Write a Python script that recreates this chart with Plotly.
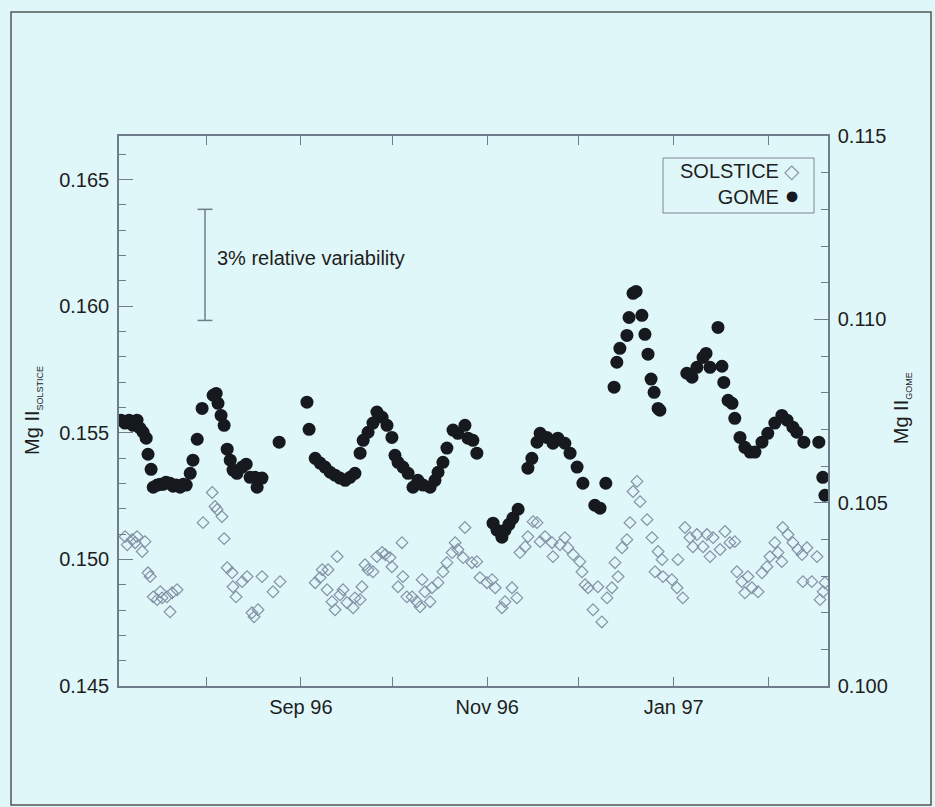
import pandas as pd
import plotly.graph_objects as go

BASE = pd.Timestamp("1996-07-01")

# GOME: day of observation (days after 1996-07-01) and Mg II index
gome_day = [3.2, 4.5, 5.8, 7.1, 8.4, 9.4, 10.4, 11.4, 12.0, 13.0,
            13.7, 15.0, 16.0, 16.9, 17.9, 19.2, 20.2, 21.2, 22.5, 23.5,
            24.5, 25.8, 26.7, 28.1, 29.7, 33.3, 34.3, 34.9, 35.9, 36.9,
            37.9, 38.9, 39.8, 41.1, 42.8, 44.1, 45.4, 47.0, 47.7, 49.3,
            54.9, 64.0, 64.7, 66.7, 68.3, 69.9, 71.6, 73.2, 74.8, 76.5,
            78.1, 79.7, 81.4, 82.4, 84.0, 85.6, 86.9, 88.6, 90.2, 91.8,
            92.8, 93.8, 95.4, 97.1, 98.7, 100.3, 102.0, 104.3, 105.9, 106.9,
            108.5, 109.8, 111.8, 113.4, 115.7, 116.7, 118.3, 119.6, 124.9, 126.2,
            127.8, 128.8, 130.1, 131.4, 133.1, 136.3, 137.6, 139.3, 140.3, 142.5,
            144.5, 146.1, 148.4, 150.1, 152.4, 154.3, 158.2, 159.9, 161.8, 164.5,
            165.4, 166.4, 168.7, 169.4, 170.7, 171.7, 173.6, 174.6, 175.6, 176.6,
            177.6, 178.9, 179.5, 188.3, 190.0, 191.6, 193.6, 194.6, 195.9, 198.5,
            199.8, 200.4, 201.8, 203.1, 204.0, 205.7, 207.3, 209.0, 210.6, 212.9,
            214.8, 217.1, 219.4, 221.1, 223.0, 224.3, 226.6, 231.5, 232.8, 233.5]
gome_val = [0.10725, 0.10717, 0.10725, 0.10711, 0.10725, 0.10703, 0.10692, 0.10676, 0.10632, 0.10591,
            0.10542, 0.10548, 0.10550, 0.10550, 0.10556, 0.10553, 0.10545, 0.10548, 0.10542, 0.10550,
            0.10548, 0.10580, 0.10616, 0.10673, 0.10757, 0.10793, 0.10798, 0.10771, 0.10738, 0.10711,
            0.10646, 0.10616, 0.10589, 0.10580, 0.10597, 0.10605, 0.10569, 0.10569, 0.10542, 0.10567,
            0.10665, 0.10774, 0.10700, 0.10621, 0.10608, 0.10597, 0.10583, 0.10575, 0.10567, 0.10561,
            0.10569, 0.10580, 0.10635, 0.10670, 0.10692, 0.10717, 0.10747, 0.10733, 0.10711, 0.10678,
            0.10629, 0.10610, 0.10597, 0.10580, 0.10542, 0.10561, 0.10548, 0.10542, 0.10561, 0.10583,
            0.10610, 0.10649, 0.10698, 0.10689, 0.10711, 0.10676, 0.10670, 0.10635, 0.10444, 0.10425,
            0.10406, 0.10425, 0.10441, 0.10458, 0.10482, 0.10594, 0.10621, 0.10665, 0.10689, 0.10678,
            0.10662, 0.10676, 0.10662, 0.10635, 0.10597, 0.10553, 0.10493, 0.10485, 0.10553, 0.10815,
            0.10883, 0.10921, 0.10956, 0.11005, 0.11071, 0.11076, 0.11011, 0.10959, 0.10905, 0.10837,
            0.10801, 0.10757, 0.10752, 0.10853, 0.10842, 0.10869, 0.10896, 0.10907, 0.10869, 0.10978,
            0.10872, 0.10828, 0.10779, 0.10771, 0.10730, 0.10678, 0.10651, 0.10638, 0.10638, 0.10665,
            0.10689, 0.10717, 0.10738, 0.10725, 0.10706, 0.10692, 0.10665, 0.10665, 0.10569, 0.10520]

# SOLSTICE: day of observation (days after 1996-07-01) and Mg II index
sol_day = [4.5, 5.2, 6.8, 7.8, 8.4, 10.1, 11.0, 12.0, 12.7, 13.7,
           15.0, 16.0, 16.6, 18.2, 19.2, 19.9, 21.5, 30.0, 33.0, 33.9,
           34.6, 36.2, 36.9, 37.9, 39.5, 39.8, 40.8, 42.8, 44.4, 46.0,
           46.7, 48.0, 49.3, 52.9, 55.2, 66.7, 68.3, 69.0, 70.6, 70.9,
           72.2, 73.2, 73.9, 74.8, 75.8, 77.1, 79.1, 79.7, 81.4, 82.0,
           83.0, 84.0, 85.6, 86.9, 88.6, 89.6, 91.2, 91.8, 93.8, 95.1,
           95.4, 96.7, 98.4, 100.0, 101.0, 101.7, 102.6, 104.3, 104.9, 106.9,
           108.5, 109.8, 111.5, 112.5, 113.4, 115.1, 115.7, 118.0, 119.6, 120.6,
           122.9, 124.6, 125.6, 127.8, 128.8, 131.1, 132.7, 133.7, 135.4, 136.3,
           138.0, 139.3, 140.3, 141.9, 144.2, 144.5, 146.8, 148.4, 149.4, 151.1,
           153.3, 154.0, 155.0, 156.0, 157.6, 159.2, 160.5, 162.2, 163.8, 164.8,
           165.8, 167.1, 168.7, 169.7, 170.7, 172.0, 173.0, 175.3, 176.9, 177.9,
           178.9, 180.2, 180.5, 183.4, 185.1, 185.4, 187.0, 187.7, 189.3, 190.3,
           191.6, 193.6, 194.9, 195.9, 196.9, 199.2, 200.8, 202.4, 204.0, 204.7,
           206.3, 207.3, 208.3, 209.6, 211.6, 212.9, 214.5, 215.5, 217.1, 218.1,
           219.4, 219.7, 221.4, 223.0, 224.7, 226.0, 226.3, 227.6, 229.2, 230.9,
           231.9, 232.9, 233.5]
sol_val = [0.15090, 0.15058, 0.15078, 0.15066, 0.15090, 0.15031, 0.15070, 0.14947, 0.14932, 0.14852,
           0.14841, 0.14872, 0.14848, 0.14852, 0.14793, 0.14868, 0.14880, 0.15145, 0.15264, 0.15209,
           0.15197, 0.15169, 0.15082, 0.14967, 0.14947, 0.14892, 0.14852, 0.14912, 0.14932, 0.14789,
           0.14773, 0.14801, 0.14932, 0.14872, 0.14912, 0.14908, 0.14928, 0.14959, 0.14880, 0.14959,
           0.14833, 0.14801, 0.15011, 0.14860, 0.14880, 0.14829, 0.14809, 0.14848, 0.14841, 0.14892,
           0.14979, 0.14959, 0.14951, 0.15011, 0.15027, 0.15019, 0.15007, 0.14971, 0.14892, 0.15066,
           0.14932, 0.14852, 0.14852, 0.14833, 0.14813, 0.14920, 0.14872, 0.14833, 0.14888, 0.14908,
           0.14951, 0.14987, 0.15027, 0.15066, 0.15039, 0.15007, 0.15126, 0.14987, 0.14991, 0.14928,
           0.14908, 0.14920, 0.14888, 0.14809, 0.14833, 0.14888, 0.14848, 0.15027, 0.15050, 0.15090,
           0.15149, 0.15145, 0.15070, 0.15090, 0.15066, 0.15011, 0.15058, 0.15086, 0.15046, 0.15019,
           0.14991, 0.14951, 0.14900, 0.14888, 0.14801, 0.14892, 0.14753, 0.14848, 0.14888, 0.14987,
           0.14932, 0.15046, 0.15078, 0.15145, 0.15268, 0.15308, 0.15228, 0.15157, 0.15086, 0.14951,
           0.15031, 0.14999, 0.14932, 0.14920, 0.14888, 0.14999, 0.14848, 0.15126, 0.15086, 0.15050,
           0.15098, 0.15050, 0.15098, 0.15011, 0.15086, 0.15039, 0.15110, 0.15066, 0.15070, 0.14951,
           0.14912, 0.14868, 0.14932, 0.14888, 0.14872, 0.14947, 0.14971, 0.15011, 0.15066, 0.15027,
           0.14991, 0.15126, 0.15098, 0.15066, 0.15039, 0.15019, 0.14912, 0.15046, 0.14912, 0.15011,
           0.14841, 0.14872, 0.14908]

x_range_days = [2.5, 234.5]
y_left_range = [0.145, 0.16672]
y_right_range = [0.100, 0.115]
variability_bar = [0.10997, 0.11300]  # 3 % relative variability on GOME scale


def to_dates(days):
    return BASE + pd.to_timedelta(days, unit="D")


BG = "#e0f7f9"
AX = "#6f7c8c"
TXT = "#1e1e1e"
SOL_C = "#8391a6"
GOME_C = "#16191d"
FONT = "Liberation Sans, Arial, Helvetica, sans-serif"
FS = 20

fig = go.Figure()
fig.add_trace(go.Scatter(
    x=to_dates(sol_day), y=sol_val, mode="markers", name="SOLSTICE",
    marker=dict(symbol="diamond-open", size=9, color=SOL_C,
                line=dict(width=1.2, color=SOL_C)),
    yaxis="y"))
fig.add_trace(go.Scatter(
    x=to_dates(gome_day), y=gome_val, mode="markers", name="GOME",
    marker=dict(symbol="circle", size=13, color=GOME_C,
                line=dict(width=0)),
    yaxis="y2"))

xr = [to_dates([d])[0] for d in x_range_days]

fig.update_layout(
    width=935, height=807,
    margin=dict(l=119, r=107, t=136, b=121),
    paper_bgcolor=BG, plot_bgcolor=BG,
    showlegend=False,
    font=dict(family=FONT, size=FS, color=TXT),
    xaxis=dict(
        type="date", range=xr, tick0="1996-09-01", dtick="M2",
        tickformat="%b %y", ticks="inside", ticklen=9, tickwidth=1.2,
        tickcolor=AX, showline=True, linecolor=AX, linewidth=1.5,
        mirror="allticks", showgrid=False, zeroline=False,
        minor=dict(dtick="M1", tick0="1996-08-01", ticks="inside",
                   ticklen=9, tickwidth=1.2, tickcolor=AX, showgrid=False),
        tickfont=dict(size=FS, color=TXT), ticklabelstandoff=2,
    ),
    yaxis=dict(
        range=y_left_range, tick0=0.145, dtick=0.005, tickformat=".3f",
        ticks="inside", ticklen=14, tickwidth=1.2, tickcolor=AX,
        showline=True, linecolor=AX, linewidth=1.5, mirror=False,
        showgrid=False, zeroline=False,
        minor=dict(dtick=0.001, ticks="inside", ticklen=7, tickwidth=1.2,
                   tickcolor=AX, showgrid=False),
        tickfont=dict(size=FS, color=TXT), ticklabelstandoff=4,
    ),
    yaxis2=dict(
        range=y_right_range, tick0=0.100, dtick=0.005, tickformat=".3f",
        overlaying="y", side="right",
        ticks="inside", ticklen=14, tickwidth=1.2, tickcolor=AX,
        showline=True, linecolor=AX, linewidth=1.5,
        showgrid=False, zeroline=False,
        minor=dict(dtick=0.001, ticks="inside", ticklen=7, tickwidth=1.2,
                   tickcolor=AX, showgrid=False),
        tickfont=dict(size=FS, color=TXT), ticklabelstandoff=4,
    ),
)

shapes = []
# outer frame
shapes.append(dict(type="rect", xref="paper", yref="paper",
                   x0=-0.1523, x1=1.1453, y0=-0.2164, y1=1.2255,
                   line=dict(color="#555555", width=1.5), layer="below"))
# legend box
shapes.append(dict(type="rect", xref="paper", yref="paper",
                   x0=0.7673, x1=0.9803, y0=0.860, y1=0.960,
                   line=dict(color="#7d8590", width=1)))
# variability bar
bx = 0.1213
shapes.append(dict(type="line", xref="paper", yref="y2",
                   x0=bx, x1=bx, y0=variability_bar[0], y1=variability_bar[1],
                   line=dict(color=AX, width=1.5)))
for yv in variability_bar:
    shapes.append(dict(type="line", xref="paper", yref="y2",
                       x0=bx - 0.0105, x1=bx + 0.0105, y0=yv, y1=yv,
                       line=dict(color=AX, width=1.5)))
fig.update_layout(shapes=shapes)

legend_text = (
    "SOLSTICE <span style='color:%s'>\u25c7</span><br>"
    "GOME <span style='color:%s;font-size:25px'>\u25cf</span>" % (SOL_C, GOME_C)
)

ann = [
    dict(text="3% relative variability", xref="paper", yref="y2",
         x=0.1354, y=sum(variability_bar) / 2 + 0.0002, xanchor="left",
         yanchor="middle", showarrow=False, font=dict(size=FS, color=TXT)),
    dict(text=legend_text, xref="paper", yref="paper", x=0.9635, y=0.911,
         xanchor="right", yanchor="middle", align="right", showarrow=False,
         font=dict(size=FS, color=TXT)),
    dict(text="Mg II<sub><span style='font-size:9px'>SOLSTICE</span></sub>",
         xref="paper", yref="paper", x=-0.1213, y=0.502, textangle=-90,
         xanchor="center", yanchor="middle", showarrow=False,
         font=dict(size=FS, color=TXT)),
    dict(text="Mg II<sub><span style='font-size:9px'>GOME</span></sub>",
         xref="paper", yref="paper", x=1.1044, y=0.505, textangle=-90,
         xanchor="center", yanchor="middle", showarrow=False,
         font=dict(size=FS, color=TXT)),
]
fig.update_layout(annotations=ann)

fig.write_html("out.html")
